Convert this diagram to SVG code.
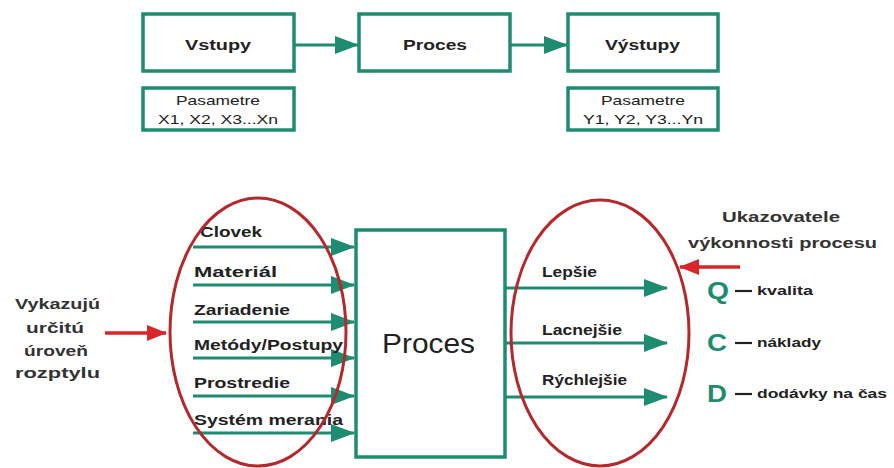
<svg xmlns="http://www.w3.org/2000/svg" width="894" height="468" viewBox="0 0 894 468">
<style>
.box{fill:#fff;stroke:#1e8c70;stroke-width:3.5}
.con{stroke:#1e8c70;stroke-width:3;fill:none}
.red{stroke:#d8262a;stroke-width:3.5;fill:none}
.ell{stroke:#b7282d;stroke-width:3;fill:none}
.dash{stroke:#222;stroke-width:2.2}
text{font-family:"Liberation Sans",Arial,sans-serif;fill:#222}
.t1{font-size:14px;font-weight:bold}
.t2{font-size:13px}
.lb{font-size:14px;font-weight:bold}
.big{font-size:27px}
.side{font-size:15px;font-weight:bold;fill:#333}
.qcd{font-size:24px;font-weight:bold;fill:#1e8c70}
.sm{font-size:13px;font-weight:bold}
</style>
<defs>
<marker id="agb" markerWidth="24" markerHeight="18" refX="23" refY="9" orient="auto" markerUnits="userSpaceOnUse" viewBox="0 0 24 18"><path d="M0,0 L24,9 L0,18 z" fill="#1e8c70"/></marker>
<marker id="ar" markerWidth="20" markerHeight="16" refX="19" refY="8" orient="auto" markerUnits="userSpaceOnUse" viewBox="0 0 20 16"><path d="M0,0 L20,8 L0,16 z" fill="#d8262a"/></marker>
</defs>
<rect width="894" height="468" fill="#fff"/>

<g id="connectors">
<line class="con" x1="294" y1="45" x2="358" y2="45" marker-end="url(#agb)"/>
<line class="con" x1="510" y1="45" x2="567" y2="45" marker-end="url(#agb)"/>
<line class="con" x1="193" y1="247" x2="354" y2="247" marker-end="url(#agb)"/>
<line class="con" x1="193" y1="285" x2="354" y2="285" marker-end="url(#agb)"/>
<line class="con" x1="193" y1="322" x2="354" y2="322" marker-end="url(#agb)"/>
<line class="con" x1="193" y1="358" x2="354" y2="358" marker-end="url(#agb)"/>
<line class="con" x1="193" y1="396" x2="354" y2="396" marker-end="url(#agb)"/>
<line class="con" x1="193" y1="433" x2="354" y2="433" marker-end="url(#agb)"/>
<line class="con" x1="505" y1="288" x2="667" y2="288" marker-end="url(#agb)"/>
<line class="con" x1="505" y1="343" x2="667" y2="343" marker-end="url(#agb)"/>
<line class="con" x1="505" y1="397" x2="667" y2="397" marker-end="url(#agb)"/>
<line class="red" x1="105" y1="333" x2="166" y2="333" marker-end="url(#ar)"/>
<line class="red" x1="740" y1="267" x2="680" y2="267" marker-end="url(#ar)"/>
</g>

<g id="vstupy"><rect class="box" x="143" y="14" width="151" height="57"/><text class="t1" x="185" y="50" textLength="66" lengthAdjust="spacingAndGlyphs">Vstupy</text></g>
<g id="proces-top"><rect class="box" x="359" y="14" width="151" height="57"/><text class="t1" x="403" y="50" textLength="64" lengthAdjust="spacingAndGlyphs">Proces</text></g>
<g id="vystupy"><rect class="box" x="568" y="14" width="150" height="57"/><text class="t1" x="605" y="50" textLength="75" lengthAdjust="spacingAndGlyphs">Výstupy</text></g>
<g id="param-x"><rect class="box" x="143" y="88" width="151" height="42"/><text class="t2" x="176" y="105" textLength="84" lengthAdjust="spacingAndGlyphs">Pasametre</text><text class="t2" x="158" y="124" textLength="120" lengthAdjust="spacingAndGlyphs">X1, X2, X3...Xn</text></g>
<g id="param-y"><rect class="box" x="568" y="88" width="150" height="42"/><text class="t2" x="601" y="105" textLength="84" lengthAdjust="spacingAndGlyphs">Pasametre</text><text class="t2" x="583" y="124" textLength="120" lengthAdjust="spacingAndGlyphs">Y1, Y2, Y3...Yn</text></g>

<g id="proces"><rect class="box" x="356" y="230" width="149" height="227"/><text class="big" x="382" y="353" textLength="93" lengthAdjust="spacingAndGlyphs">Proces</text></g>

<g id="inputs">
<text class="lb" x="200" y="237" textLength="62" lengthAdjust="spacingAndGlyphs">Clovek</text>
<text class="lb" x="194" y="277" textLength="83" lengthAdjust="spacingAndGlyphs">Materiál</text>
<text class="lb" x="194" y="315" textLength="96" lengthAdjust="spacingAndGlyphs">Zariadenie</text>
<text class="lb" x="194" y="350" textLength="149" lengthAdjust="spacingAndGlyphs">Metódy/Postupy</text>
<text class="lb" x="194" y="388" textLength="96" lengthAdjust="spacingAndGlyphs">Prostredie</text>
<text class="lb" x="194" y="425" textLength="149" lengthAdjust="spacingAndGlyphs">Systém merania</text>
</g>
<g id="outputs">
<text class="lb" x="542" y="277" textLength="55" lengthAdjust="spacingAndGlyphs">Lepšie</text>
<text class="lb" x="542" y="335" textLength="80" lengthAdjust="spacingAndGlyphs">Lacnejšie</text>
<text class="lb" x="542" y="385" textLength="85" lengthAdjust="spacingAndGlyphs">Rýchlejšie</text>
</g>

<g id="ellipse-left"><ellipse class="ell" cx="258" cy="332" rx="88" ry="134"/></g>
<g id="ellipse-right"><ellipse class="ell" cx="600" cy="333" rx="89" ry="133"/></g>

<g id="rozptyl">
<text class="side" x="15" y="309" textLength="85" lengthAdjust="spacingAndGlyphs">Vykazujú</text>
<text class="side" x="26" y="333" textLength="58" lengthAdjust="spacingAndGlyphs">určitú</text>
<text class="side" x="24" y="356" textLength="64" lengthAdjust="spacingAndGlyphs">úroveň</text>
<text class="side" x="15" y="378" textLength="85" lengthAdjust="spacingAndGlyphs">rozptylu</text>
</g>
<g id="ukazovatele">
<text class="side" x="722" y="222" textLength="118" lengthAdjust="spacingAndGlyphs">Ukazovatele</text>
<text class="side" x="688" y="248" textLength="189" lengthAdjust="spacingAndGlyphs">výkonnosti procesu</text>
</g>
<g id="qcd">
<text class="qcd" x="707" y="299" textLength="22" lengthAdjust="spacingAndGlyphs">Q</text><line class="dash" x1="735" y1="291" x2="752" y2="291"/><text class="sm" x="757" y="295" textLength="56" lengthAdjust="spacingAndGlyphs">kvalita</text>
<text class="qcd" x="707" y="351" textLength="20" lengthAdjust="spacingAndGlyphs">C</text><line class="dash" x1="735" y1="343" x2="752" y2="343"/><text class="sm" x="757" y="347" textLength="64" lengthAdjust="spacingAndGlyphs">náklady</text>
<text class="qcd" x="707" y="402" textLength="20" lengthAdjust="spacingAndGlyphs">D</text><line class="dash" x1="735" y1="394" x2="752" y2="394"/><text class="sm" x="757" y="398" textLength="130" lengthAdjust="spacingAndGlyphs">dodávky na čas</text>
</g>
</svg>
